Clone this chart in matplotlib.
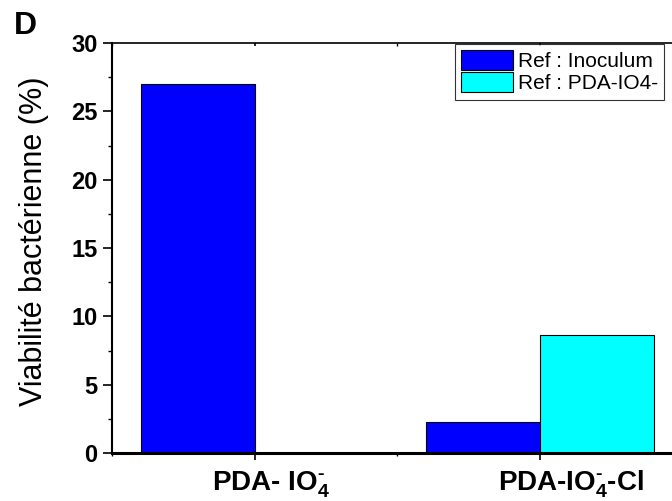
import numpy as np
import matplotlib
matplotlib.use("Agg")
import matplotlib.pyplot as plt
import matplotlib.transforms as mtrans
from matplotlib.ticker import MultipleLocator

plt.rcParams['font.family'] = ['Liberation Sans', 'DejaVu Sans']
plt.rcParams['mathtext.fontset'] = 'custom'
plt.rcParams['mathtext.rm'] = 'Liberation Sans:bold'
plt.rcParams['mathtext.bf'] = 'Liberation Sans:bold'
plt.rcParams['mathtext.it'] = 'Liberation Sans:bold'

# donnees
categories = ['PDA- IO$_4^{\u2010}$', 'PDA-IO$_4^{\u2010}$-Cl']
ref_inoculum = [27.0, 2.3]
ref_pda = [np.nan, 8.6]
series_names = ['Ref : Inoculum', 'Ref : PDA-IO4-']

fig = plt.figure(figsize=(6.72, 5.01), dpi=100)
ax = fig.add_axes([112 / 672, 48 / 501, 570 / 672, 410 / 501])

x = np.arange(1, len(categories) + 1)
w = 0.4
ax.bar(x - w / 2, ref_inoculum, w, color='#0000ff', edgecolor='black', linewidth=0.8, label=series_names[0])
ax.bar(x + w / 2, ref_pda, w, color='#00ffff', edgecolor='black', linewidth=0.8, label=series_names[1])

ax.set_xlim(0.5, 2.5)
ax.set_ylim(0, 30)
ax.set_xticks(x)
ax.set_xticklabels([''] * len(x))
# etiquettes des categories, alignees a gauche un peu avant chaque tick
blend = mtrans.blended_transform_factory(ax.transData, ax.transAxes)
shift = mtrans.ScaledTranslation(-42 / 100, -16 / 100, fig.dpi_scale_trans)
for xi, lab in zip(x, categories):
    ax.text(xi, 0, lab, transform=blend + shift, fontsize=20, fontweight='bold',
            ha='left', va='top', clip_on=False)

ax.xaxis.set_minor_locator(MultipleLocator(0.5))
ax.yaxis.set_major_locator(MultipleLocator(5))
ax.yaxis.set_minor_locator(MultipleLocator(2.5))
for lab in ax.get_yticklabels():
    lab.set_fontweight('bold')
ax.tick_params(axis='y', labelsize=17, pad=4)
ax.tick_params(which='major', direction='out', length=6.5, width=1.2, right=False)
ax.tick_params(which='minor', direction='out', length=3, width=1.0, right=False)
ax.tick_params(axis='x', which='major', length=5)
ax.tick_params(axis='x', which='minor', length=2.5)
ax.tick_params(axis='x', which='both', top=True)
# petits ticks sur l'axe du haut
for t in ax.xaxis.get_major_ticks() + ax.xaxis.get_minor_ticks():
    t.tick2line.set_markersize(2)
    t.tick2line.set_marker(3)

ax.spines['left'].set_linewidth(1.5)
ax.spines['bottom'].set_linewidth(2.2)
ax.spines['top'].set_linewidth(1.2)
ax.spines['right'].set_visible(False)

ax.set_ylabel('Viabilité bactérienne (%)', fontsize=22)
ax.yaxis.set_label_coords(-0.111, 0.517)

leg = ax.legend(loc='upper left', bbox_to_anchor=(455 / 672, 1 - 44 / 501),
                bbox_transform=fig.transFigure, fontsize=15, frameon=True, fancybox=False,
                edgecolor='black', borderpad=0.3, handlelength=2.5, handleheight=1.1,
                handletextpad=0.2, labelspacing=0.05, borderaxespad=0)
leg.get_frame().set_linewidth(0.8)

fig.text(14 / 672, 1 - 11 / 501, 'D', fontsize=23, fontweight='bold', va='top', ha='left')

fig.savefig('out.png', dpi=100)
